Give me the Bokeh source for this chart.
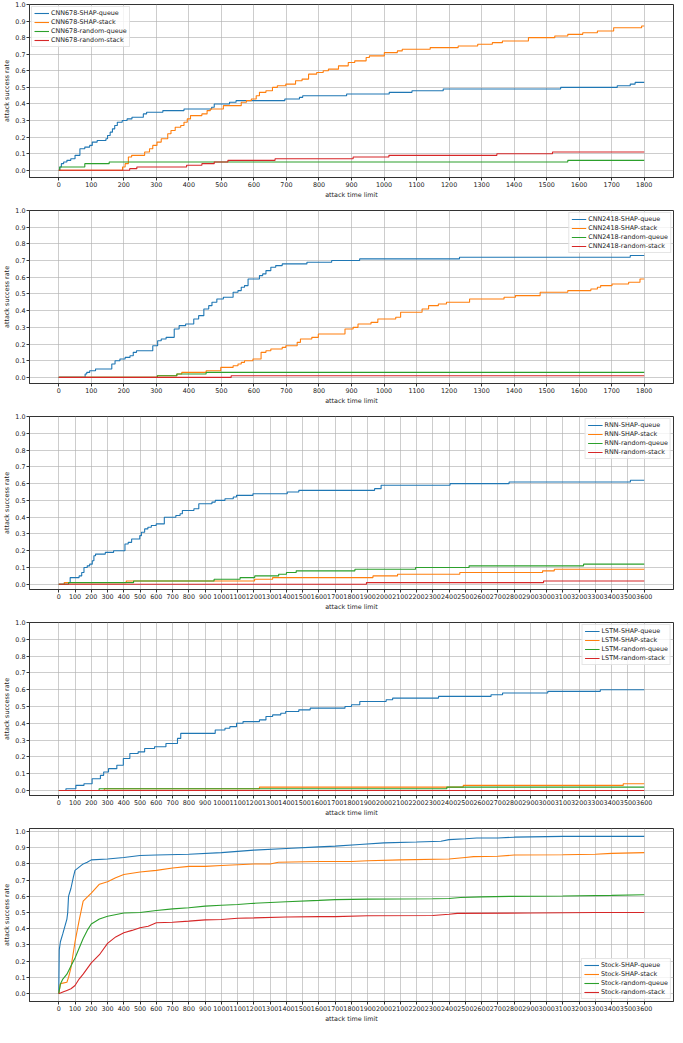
from bokeh.plotting import figure
from bokeh.layouts import column
from bokeh.models import Range1d, FixedTicker, PrintfTickFormatter
from bokeh.embed import file_html
from bokeh.resources import INLINE

# ---------------- data ----------------
# Panel 1: CNN678 (time limit 0..1800)
cnn678_shap_queue_x = [0, 3, 8, 15, 25, 37, 50, 65, 80, 95, 103, 118, 145, 150, 158, 165, 172, 180, 195, 210,
                       225, 260, 270, 320, 385, 470, 478, 525, 545, 695, 740, 750, 885, 1016, 1086, 1182, 1543,
                       1717, 1757, 1772, 1800]
cnn678_shap_queue_y = [0, 0.02, 0.04, 0.05, 0.06, 0.07, 0.09, 0.13, 0.14, 0.15, 0.17, 0.18, 0.19, 0.21, 0.23,
                       0.25, 0.27, 0.29, 0.30, 0.31, 0.32, 0.34, 0.35, 0.36, 0.37, 0.38, 0.40, 0.41, 0.42, 0.43,
                       0.44, 0.45, 0.46, 0.47, 0.48, 0.49, 0.50, 0.51, 0.52, 0.53, 0.53]
cnn678_shap_stack_x = [0, 196, 204, 214, 224, 264, 279, 289, 302, 315, 335, 345, 358, 375, 385, 395, 405, 440,
                       456, 466, 506, 561, 577, 592, 607, 617, 637, 657, 672, 698, 728, 748, 768, 793, 813, 829,
                       860, 890, 910, 945, 955, 1001, 1041, 1056, 1142, 1228, 1288, 1333, 1364, 1444, 1525, 1565,
                       1611, 1656, 1706, 1792, 1800]
cnn678_shap_stack_y = [0, 0.02, 0.04, 0.08, 0.09, 0.11, 0.13, 0.15, 0.17, 0.19, 0.22, 0.24, 0.26, 0.27, 0.29,
                       0.31, 0.33, 0.34, 0.36, 0.37, 0.39, 0.41, 0.42, 0.43, 0.45, 0.47, 0.48, 0.50, 0.51, 0.52,
                       0.54, 0.55, 0.58, 0.59, 0.60, 0.61, 0.63, 0.65, 0.66, 0.68, 0.69, 0.71, 0.72, 0.73, 0.74,
                       0.75, 0.76, 0.77, 0.78, 0.80, 0.81, 0.82, 0.83, 0.84, 0.86, 0.87, 0.87]
cnn678_rand_queue_x = [0, 3, 80, 155, 1565, 1800]
cnn678_rand_queue_y = [0, 0.02, 0.04, 0.05, 0.06, 0.06]
cnn678_rand_stack_x = [0, 218, 240, 393, 440, 478, 520, 665, 905, 1015, 1347, 1518, 1800]
cnn678_rand_stack_y = [0, 0.01, 0.02, 0.03, 0.04, 0.05, 0.06, 0.07, 0.08, 0.09, 0.10, 0.11, 0.11]

# Panel 2: CNN2418 (0..1800)
cnn2418_shap_queue_x = [0, 81, 86, 95, 113, 163, 173, 188, 204, 219, 229, 239, 289, 304, 315, 330, 355, 370,
                        390, 415, 430, 446, 461, 471, 486, 506, 536, 551, 561, 571, 582, 617, 627, 637, 652,
                        667, 687, 763, 839, 925, 1232, 1757, 1800]
cnn2418_shap_queue_y = [0, 0.02, 0.03, 0.04, 0.05, 0.08, 0.10, 0.11, 0.12, 0.13, 0.15, 0.16, 0.19, 0.22, 0.23,
                        0.24, 0.29, 0.31, 0.32, 0.35, 0.37, 0.41, 0.43, 0.45, 0.47, 0.48, 0.51, 0.52, 0.54, 0.55,
                        0.59, 0.61, 0.62, 0.64, 0.66, 0.67, 0.68, 0.69, 0.70, 0.71, 0.72, 0.73, 0.73]
cnn2418_shap_stack_x = [0, 303, 363, 378, 453, 498, 536, 551, 561, 571, 597, 622, 637, 652, 687, 698, 733, 743,
                        778, 798, 880, 905, 920, 960, 981, 1036, 1051, 1117, 1137, 1167, 1192, 1263, 1369, 1404,
                        1480, 1565, 1636, 1656, 1666, 1701, 1752, 1787, 1800]
cnn2418_shap_stack_y = [0, 0.01, 0.02, 0.03, 0.04, 0.06, 0.07, 0.08, 0.09, 0.10, 0.11, 0.15, 0.16, 0.17, 0.18,
                        0.19, 0.21, 0.23, 0.24, 0.26, 0.29, 0.30, 0.32, 0.33, 0.35, 0.36, 0.39, 0.41, 0.43, 0.44,
                        0.45, 0.47, 0.48, 0.49, 0.51, 0.52, 0.53, 0.54, 0.55, 0.56, 0.57, 0.59, 0.59]
cnn2418_rand_queue_x = [0, 303, 363, 453, 1800]
cnn2418_rand_queue_y = [0, 0.01, 0.02, 0.03, 0.03]
cnn2418_rand_stack_x = [0, 530, 1800]
cnn2418_rand_stack_y = [0, 0.01, 0.01]

# Panel 3: RNN (0..3600)
rnn_shap_queue_x = [0, 34, 70, 125, 141, 155, 175, 190, 206, 216, 226, 286, 337, 407, 427, 448, 498, 508, 528,
                    548, 569, 599, 649, 720, 746, 760, 831, 861, 942, 962, 1022, 1073, 1093, 1194, 1405, 1476,
                    1942, 1982, 2406, 2769, 3515, 3600]
rnn_shap_queue_y = [0, 0.01, 0.04, 0.05, 0.07, 0.10, 0.11, 0.12, 0.14, 0.17, 0.18, 0.19, 0.20, 0.24, 0.25, 0.27,
                    0.29, 0.31, 0.33, 0.34, 0.35, 0.36, 0.40, 0.41, 0.42, 0.44, 0.45, 0.48, 0.49, 0.50, 0.51,
                    0.52, 0.53, 0.54, 0.55, 0.56, 0.57, 0.59, 0.60, 0.61, 0.62, 0.62]
rnn_shap_stack_x = [0, 35, 415, 1204, 1315, 1932, 2083, 2466, 2975, 3047, 3600]
rnn_shap_stack_y = [0, 0.01, 0.02, 0.03, 0.04, 0.05, 0.06, 0.07, 0.08, 0.09, 0.09]
rnn_rand_queue_x = [0, 60, 460, 955, 1115, 1205, 1352, 1400, 1460, 1821, 2194, 2523, 3227, 3600]
rnn_rand_queue_y = [0, 0.01, 0.02, 0.03, 0.04, 0.05, 0.06, 0.07, 0.08, 0.09, 0.10, 0.11, 0.12, 0.12]
rnn_rand_stack_x = [0, 1892, 2981, 3600]
rnn_rand_stack_y = [0, 0.01, 0.02, 0.02]

# Panel 4: LSTM (0..3600)
lstm_shap_queue_x = [0, 44, 105, 155, 205, 256, 276, 306, 357, 397, 437, 488, 528, 589, 659, 730, 750, 962, 1022,
                     1052, 1093, 1133, 1234, 1274, 1315, 1365, 1395, 1476, 1546, 1760, 1800, 1851, 2013, 2053,
                     2335, 2658, 2729, 3007, 3330, 3600]
lstm_shap_queue_y = [0, 0.01, 0.03, 0.04, 0.07, 0.09, 0.11, 0.13, 0.15, 0.19, 0.22, 0.23, 0.25, 0.26, 0.28,
                     0.31, 0.34, 0.36, 0.37, 0.38, 0.40, 0.41, 0.42, 0.44, 0.45, 0.46, 0.47, 0.48, 0.49, 0.50,
                     0.51, 0.53, 0.54, 0.55, 0.56, 0.57, 0.58, 0.59, 0.60, 0.60]
lstm_shap_stack_x = [0, 280, 1234, 2487, 3471, 3600]
lstm_shap_stack_y = [0, 0.01, 0.02, 0.03, 0.04, 0.04]
lstm_rand_queue_x = [0, 248, 2386, 3600]
lstm_rand_queue_y = [0, 0.01, 0.02, 0.02]
lstm_rand_stack_x = [0, 3600]
lstm_rand_stack_y = [0, 0]

# Panel 5: Stock (0..3600)
stock_shap_queue_x = [0, 3, 10, 25, 50, 55, 60, 75, 90, 100, 125, 150, 175, 200, 300, 400, 500, 600, 800, 1000,
                      1200, 1400, 1600, 1700, 1850, 2000, 2200, 2350, 2400, 2500, 2570, 2700, 2800, 3100, 3600]
stock_shap_queue_y = [0, 0.27, 0.32, 0.37, 0.46, 0.50, 0.60, 0.65, 0.72, 0.76, 0.78, 0.80, 0.81, 0.825, 0.83,
                      0.84, 0.852, 0.855, 0.86, 0.87, 0.885, 0.895, 0.905, 0.91, 0.92, 0.93, 0.935, 0.94, 0.95,
                      0.955, 0.96, 0.96, 0.965, 0.97, 0.97]
stock_shap_stack_x = [0, 10, 25, 50, 60, 75, 100, 125, 150, 170, 200, 250, 300, 350, 400, 500, 600, 700, 800, 900,
                      1000, 1100, 1200, 1300, 1350, 1600, 1800, 1900, 2100, 2400, 2500, 2550, 2700, 2800, 3100,
                      3300, 3400, 3600]
stock_shap_stack_y = [0, 0.06, 0.065, 0.07, 0.10, 0.16, 0.32, 0.45, 0.57, 0.59, 0.62, 0.675, 0.69, 0.715, 0.735,
                      0.75, 0.76, 0.775, 0.785, 0.785, 0.79, 0.795, 0.80, 0.80, 0.81, 0.815, 0.815, 0.82, 0.825,
                      0.83, 0.84, 0.845, 0.847, 0.855, 0.857, 0.86, 0.865, 0.87]
stock_rand_queue_x = [0, 10, 25, 50, 75, 100, 125, 150, 175, 200, 250, 300, 400, 500, 600, 700, 800, 900, 1000,
                      1100, 1200, 1400, 1600, 1700, 1900, 2300, 2400, 2470, 2600, 2770, 3100, 3400, 3600]
stock_rand_queue_y = [0, 0.06, 0.09, 0.12, 0.17, 0.22, 0.28, 0.34, 0.39, 0.43, 0.46, 0.477, 0.497, 0.50, 0.513,
                      0.523, 0.53, 0.54, 0.545, 0.55, 0.557, 0.567, 0.575, 0.58, 0.583, 0.585, 0.587, 0.593,
                      0.597, 0.60, 0.602, 0.606, 0.61]
stock_rand_stack_x = [0, 25, 50, 75, 100, 125, 150, 200, 250, 300, 350, 400, 450, 500, 550, 600, 700, 800, 900,
                      1000, 1100, 1200, 1400, 1600, 1700, 1900, 2300, 2400, 2450, 2900, 3300, 3600]
stock_rand_stack_y = [0, 0.01, 0.02, 0.03, 0.05, 0.09, 0.12, 0.19, 0.24, 0.31, 0.35, 0.376, 0.39, 0.406, 0.416,
                      0.437, 0.44, 0.447, 0.455, 0.457, 0.465, 0.467, 0.473, 0.475, 0.475, 0.48, 0.482, 0.49,
                      0.495, 0.497, 0.50, 0.50]

series_suffixes = ["SHAP-queue", "SHAP-stack", "random-queue", "random-stack"]
y_tick_values = [i / 10 for i in range(11)]
x_label = "attack time limit"
y_label = "attack success rate"

# ---------------- style ----------------
COLORS = ["#1f77b4", "#ff7f0e", "#2ca02c", "#d62728"]
FONT = "DejaVu Sans"
FS = "6.4px"
TXT = "#222222"


def make_panel(model, series, xmax, ylo, yhi, legend_loc, height, top_border, as_step):
    p = figure(width=674, height=height, output_backend="svg", toolbar_location=None,
               x_range=Range1d(-0.05 * xmax, 1.05 * xmax), y_range=Range1d(ylo, yhi),
               min_border_left=22, min_border_right=1, min_border_top=top_border,
               min_border_bottom=22)
    p.background_fill_color = "white"
    p.outline_line_color = "#333333"
    p.outline_line_width = 1
    for (xs, ys), suffix, col in zip(series, series_suffixes, COLORS):
        label = f"{model}-{suffix}"
        if as_step:
            p.step(xs, ys, mode="after", line_color=col, line_width=1.1, legend_label=label)
        else:
            p.line(xs, ys, line_color=col, line_width=1.1, legend_label=label)

    p.xaxis.ticker = FixedTicker(ticks=list(range(0, xmax + 1, 100)))
    p.yaxis.ticker = FixedTicker(ticks=y_tick_values)
    p.yaxis.formatter = PrintfTickFormatter(format="%.1f")
    p.xaxis.axis_label = x_label
    p.yaxis.axis_label = y_label
    for ax in (p.xaxis, p.yaxis):
        ax.major_label_text_font = FONT
        ax.major_label_text_font_size = FS
        ax.major_label_text_color = TXT
        ax.axis_label_text_font = FONT
        ax.axis_label_text_font_size = FS
        ax.axis_label_text_font_style = "normal"
        ax.axis_label_text_color = TXT
        ax.minor_tick_line_color = None
        ax.major_tick_in = 0
        ax.major_tick_out = 3
        ax.major_tick_line_color = "#333333"
        ax.axis_line_color = "#333333"
        ax.major_label_standoff = 1
        ax.axis_label_standoff = 1
    p.grid.grid_line_color = "#b0b0b0"
    p.grid.grid_line_alpha = 0.8
    p.grid.grid_line_width = 0.8

    lg = p.legend[0]
    lg.location = legend_loc
    lg.label_text_font = FONT
    lg.label_text_font_size = FS
    lg.label_text_color = TXT
    lg.glyph_width = 15
    lg.glyph_height = 8
    lg.label_height = 8
    lg.spacing = 1
    lg.padding = 2
    lg.margin = 2
    lg.label_standoff = 2
    lg.border_line_color = "#cccccc"
    lg.border_line_width = 1
    lg.background_fill_alpha = 0.8
    return p


p1 = make_panel("CNN678", [(cnn678_shap_queue_x, cnn678_shap_queue_y), (cnn678_shap_stack_x, cnn678_shap_stack_y),
                           (cnn678_rand_queue_x, cnn678_rand_queue_y), (cnn678_rand_stack_x, cnn678_rand_stack_y)],
                1800, -0.0435, 1.0, "top_left", 201, 4, True)
p2 = make_panel("CNN2418", [(cnn2418_shap_queue_x, cnn2418_shap_queue_y), (cnn2418_shap_stack_x, cnn2418_shap_stack_y),
                            (cnn2418_rand_queue_x, cnn2418_rand_queue_y), (cnn2418_rand_stack_x, cnn2418_rand_stack_y)],
                1800, -0.0365, 1.0, "top_right", 206, 9, True)
p3 = make_panel("RNN", [(rnn_shap_queue_x, rnn_shap_queue_y), (rnn_shap_stack_x, rnn_shap_stack_y),
                        (rnn_rand_queue_x, rnn_rand_queue_y), (rnn_rand_stack_x, rnn_rand_stack_y)],
                3600, -0.031, 1.0, "top_right", 206, 9, True)
p4 = make_panel("LSTM", [(lstm_shap_queue_x, lstm_shap_queue_y), (lstm_shap_stack_x, lstm_shap_stack_y),
                         (lstm_rand_queue_x, lstm_rand_queue_y), (lstm_rand_stack_x, lstm_rand_stack_y)],
                3600, -0.03, 1.0, "top_right", 206, 9, True)
p5 = make_panel("Stock", [(stock_shap_queue_x, stock_shap_queue_y), (stock_shap_stack_x, stock_shap_stack_y),
                          (stock_rand_queue_x, stock_rand_queue_y), (stock_rand_stack_x, stock_rand_stack_y)],
                3600, -0.0485, 1.0185, "bottom_right", 206, 9, False)

layout = column(p1, p2, p3, p4, p5, spacing=0)
open("out.html", "w").write(file_html(layout, INLINE))
